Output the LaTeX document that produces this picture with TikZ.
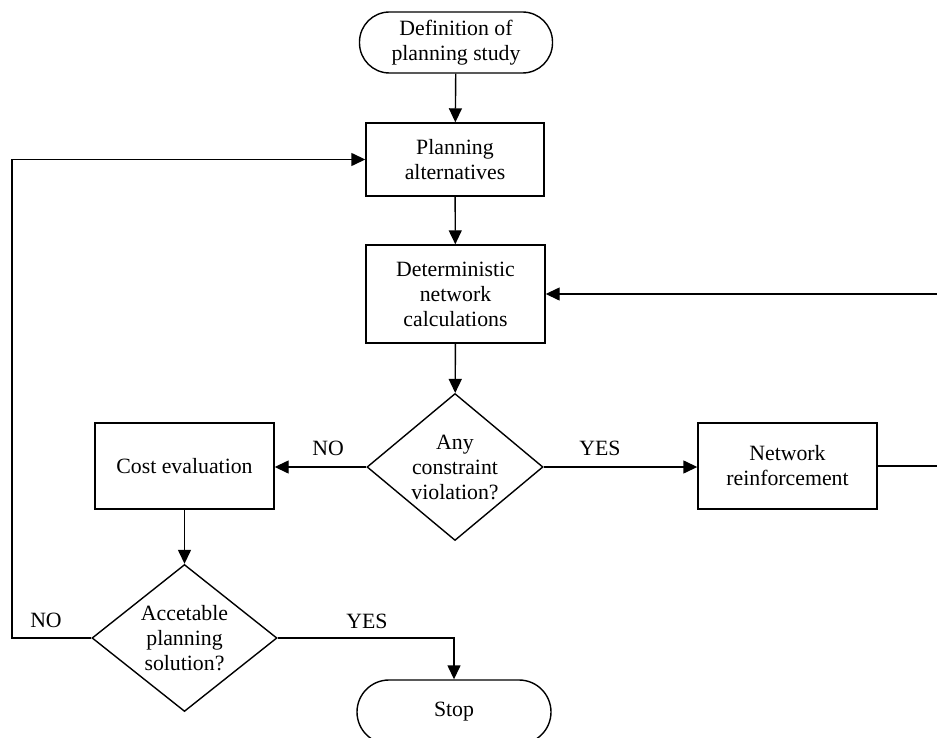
\documentclass[tikz,border=0pt]{standalone}
\usepackage{fontspec}
\setmainfont{Liberation Serif}
\usetikzlibrary{shapes.geometric,arrows.meta}
\begin{document}
\begin{tikzpicture}[x=1pt,y=-1pt,
  every node/.style={font=\fontsize{21.8}{25}\selectfont, align=center},
  line/.style={line width=1.4pt},
  flow/.style={line, -{Triangle[length=14pt,width=13pt]}},
  procbox/.style={draw, line width=1.4pt, inner sep=0pt},
  term/.style={draw, line width=1.4pt, inner sep=0pt, rounded corners=30pt},
  decision/.style={draw, line width=1.4pt, diamond, inner sep=0pt, aspect=1.2},
  tag/.style={inner sep=0pt}
]
\useasboundingbox (0,0) rectangle (937,738);

% process steps
\node[term, minimum width=193pt, minimum height=61pt] (start) at (456,42.5) {Definition of\\planning study};
\node[procbox, minimum width=178pt, minimum height=73pt] (alt) at (455,159.5) {Planning\\alternatives};
\node[procbox, minimum width=179pt, minimum height=98pt] (calc) at (455.5,294) {Deterministic\\network\\calculations};
\node[decision, minimum width=176pt, minimum height=147pt] (viol) at (455,467) {Any\\constraint\\violation?};
\node[procbox, minimum width=179pt, minimum height=86pt] (cost) at (184.5,466) {Cost evaluation};
\node[procbox, minimum width=179pt, minimum height=86pt] (reinf) at (787.5,466) {Network\\reinforcement};
\node[decision, minimum width=185pt, minimum height=147pt] (accept) at (184.5,638) {Accetable\\planning\\solution?};
\node[term, minimum width=194pt, minimum height=64pt, rounded corners=32pt] (stop) at (454,712) {Stop};

% routing columns for the two feedback loops
\coordinate (lft) at (12,0);
\coordinate (rgt) at (945,0);

% connectors
\draw[flow] (start) -- (alt);
\draw[flow] (alt) -- (calc);
\draw[flow] (calc) -- (viol);
\draw[flow] (viol.west) -- (cost.east |- viol.west);
\draw[flow] (viol.east) -- (reinf.west |- viol.east);
\draw[flow] (cost) -- (accept);
\draw[flow] (accept.east) -| (stop.north);
\draw[flow] (accept.west) -- (accept.west -| lft) |- (alt.west);
\draw[flow] (reinf.east) -- (reinf.east -| rgt) |- (calc.east);

% branch labels
\node[tag] at (328,448) {NO};
\node[tag] at (600,448) {YES};
\node[tag] at (46,620) {NO};
\node[tag] at (367,621) {YES};
\end{tikzpicture}
\end{document}
